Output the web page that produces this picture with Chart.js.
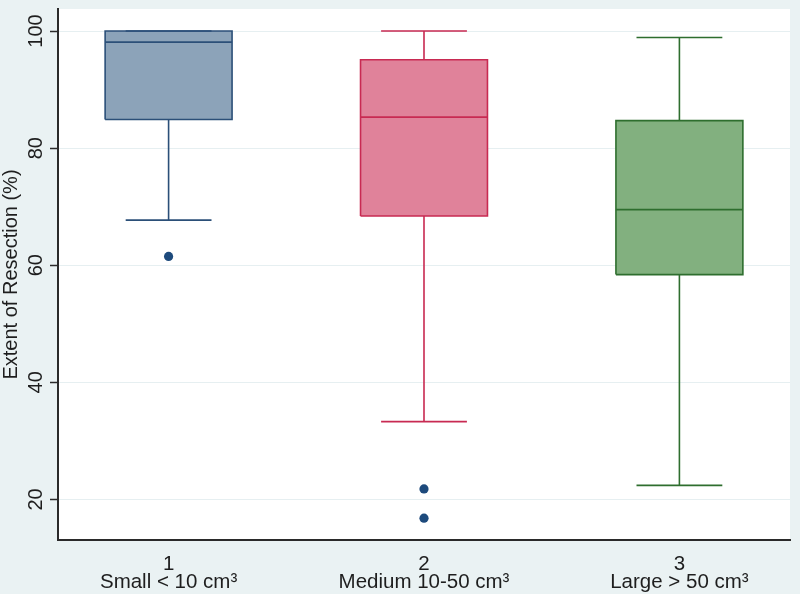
<!DOCTYPE html>
<html>
  <head>
    <meta charset="utf-8" />
    <script src="https://cdn.jsdelivr.net/npm/chart.js"></script>
    <style>
      html, body { margin: 0; padding: 0; background: #eaf2f3; }
      #wrap { width: 800px; height: 594px; }
    </style>
  </head>
  <body>
    <div id="wrap"><canvas id="myChart"></canvas></div>
    <script>
      // values
      const groups = ['1', '2', '3'];
      const groupNames = ['Small < 10 cm³', 'Medium 10-50 cm³', 'Large > 50 cm³'];
      const lowerWhisker = [67.7, 33.3, 22.4];
      const q1 = [84.9, 68.4, 58.4];
      const median = [98.1, 85.3, 69.5];
      const q3 = [100, 95.1, 84.7];
      const upperWhisker = [100, 100, 98.9];
      const outliers = [[61.5], [21.8, 16.8], []];
      const yTicks = [20, 40, 60, 80, 100];
      const xTicks = [1, 2, 3];

      const fills = ['#8ca3b9', '#e0829a', '#82b07f'];
      const strokes = ['#2b4f78', '#c82a52', '#2e6e2e'];
      const halfBox = 0.2485;
      const halfCap = 0.168;

      const datasets = [];
      groups.forEach((g, i) => {
        const x = xTicks[i];
        datasets.push({
          data: [
            {x: x - halfBox, y: q1[i]}, {x: x + halfBox, y: q1[i]},
            {x: x + halfBox, y: q3[i]}, {x: x - halfBox, y: q3[i]},
            {x: x - halfBox, y: q1[i]}
          ],
          showLine: true, fill: 'shape', backgroundColor: fills[i],
          borderColor: strokes[i], borderWidth: 1.6, pointRadius: 0, order: 3
        });
        datasets.push({
          data: [
            {x: x, y: q3[i]}, {x: x, y: upperWhisker[i]}, {x: x, y: null},
            {x: x - halfCap, y: upperWhisker[i]}, {x: x + halfCap, y: upperWhisker[i]}, {x: x, y: null},
            {x: x, y: q1[i]}, {x: x, y: lowerWhisker[i]}, {x: x, y: null},
            {x: x - halfCap, y: lowerWhisker[i]}, {x: x + halfCap, y: lowerWhisker[i]}
          ],
          showLine: true, spanGaps: false, fill: false,
          borderColor: strokes[i], borderWidth: 1.6, pointRadius: 0, order: 2
        });
        datasets.push({
          data: [{x: x - halfBox, y: median[i]}, {x: x + halfBox, y: median[i]}],
          showLine: true, fill: false,
          borderColor: strokes[i], borderWidth: 1.8, pointRadius: 0, order: 1
        });
        datasets.push({
          data: outliers[i].map(v => ({x: x, y: v})),
          showLine: false, pointRadius: 4.6, pointBackgroundColor: '#1d4a7c',
          pointBorderWidth: 0, order: 0
        });
      });

      const bgPlugin = {
        id: 'bg',
        beforeDraw(chart) {
          const {ctx, chartArea: a} = chart;
          ctx.save();
          ctx.fillStyle = '#eaf2f3';
          ctx.fillRect(0, 0, chart.width, chart.height);
          ctx.fillStyle = '#ffffff';
          ctx.fillRect(a.left, a.top, a.right - a.left, a.bottom - a.top);
          ctx.restore();
        }
      };

      new Chart(document.getElementById('myChart'), {
        type: 'scatter',
        data: { datasets: datasets },
        plugins: [bgPlugin],
        options: {
          responsive: true,
          maintainAspectRatio: false,
          animation: false,
          layout: { padding: { top: 9, right: 10, left: 0, bottom: 0 } },
          plugins: { legend: { display: false }, tooltip: { enabled: false } },
          scales: {
            x: {
              type: 'linear',
              min: 0.567,
              max: 3.433,
              afterBuildTicks: (s) => { s.ticks = xTicks.map(v => ({value: v})); },
              afterFit: (s) => { s.height = 54; s.paddingLeft = 0; s.paddingRight = 0; },
              grid: { display: false, drawTicks: false },
              border: { display: true, color: '#2a2a2a', width: 2 },
              ticks: {
                padding: 15,
                color: '#1e1e1e',
                font: { family: 'Liberation Sans', size: 20.5, lineHeight: 0.88 },
                maxRotation: 0,
                callback: (v) => [groups[v - 1], groupNames[v - 1]]
              }
            },
            y: {
              min: 13.08,
              max: 103.76,
              afterBuildTicks: (s) => { s.ticks = yTicks.map(v => ({value: v})); },
              afterFit: (s) => { s.width = 58; s.paddingTop = 0; s.paddingBottom = 0; },
              grid: { color: '#e6eff1', lineWidth: 1, tickLength: 8, tickColor: '#2a2a2a', tickWidth: 1.5 },
              border: { display: true, color: '#2a2a2a', width: 2 },
              ticks: {
                minRotation: 90,
                maxRotation: 90,
                crossAlign: 'center',
                padding: -3,
                color: '#1e1e1e',
                font: { family: 'Liberation Sans', size: 20 }
              },
              title: {
                display: true,
                text: 'Extent of Resection (%)',
                color: '#1e1e1e',
                padding: { top: 1, bottom: 0 },
                font: { family: 'Liberation Sans', size: 20, lineHeight: 1 }
              }
            }
          }
        }
      });
    </script>
  </body>
</html>
